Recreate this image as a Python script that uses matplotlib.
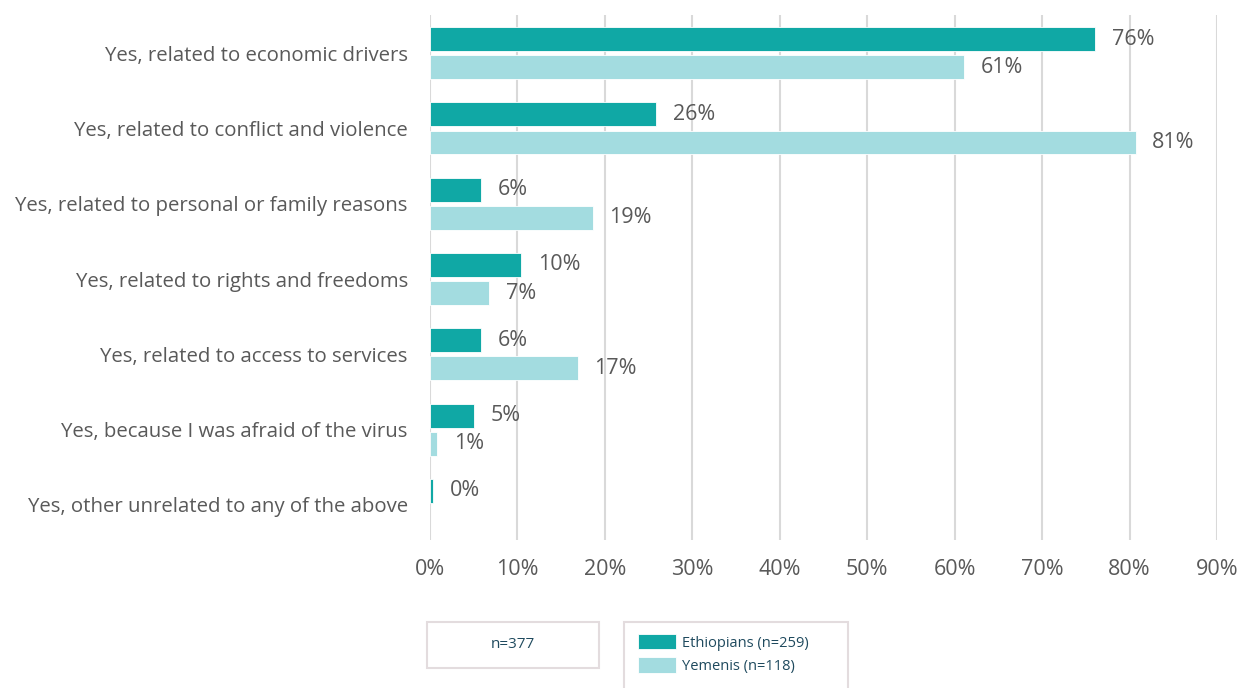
import matplotlib.pyplot as plt
from matplotlib.patches import Rectangle

# Reasons given for changing migration plans, share of respondents
CATEGORIES = ['Yes, related to economic drivers',
              'Yes, related to conflict and violence',
              'Yes, related to personal or family reasons',
              'Yes, related to rights and freedoms',
              'Yes, related to access to services',
              'Yes, because I was afraid of the virus',
              'Yes, other unrelated to any of the above']
ETHIOPIANS = [76.1, 25.9, 5.8, 10.4, 5.8, 5.0, 0.4]
YEMENIS = [61.1, 80.7, 18.6, 6.8, 16.9, 0.8, 0.0]
SERIES_NAMES = ['Ethiopians (n=259)', 'Yemenis (n=118)']
TOTAL_LABEL = 'n=377'
X_TICKS = list(range(0, 100, 10))

DARK = '#10A8A5'
LIGHT = '#A3DCE0'
GREY_TEXT = '#595959'
NAVY = '#1F4A5E'
BOX_EDGE = '#E3DCDE'

plt.rcParams['font.family'] = ['Open Sans', 'DejaVu Sans']

W, H = 1241, 688
fig = plt.figure(figsize=(W / 100, H / 100), dpi=100)


def fx(px):
    return px / W


def fy(py):
    return 1 - py / H


ax = fig.add_axes([fx(430), fy(540), fx(1217) - fx(430), fy(15) - fy(540)])

ypos = list(range(len(CATEGORIES)))
off = 0.186
bh = 0.315
b1 = ax.barh([y - off for y in ypos], ETHIOPIANS, height=bh, color=DARK,
             edgecolor='white', linewidth=0.6, label=SERIES_NAMES[0], zorder=3)
b2 = ax.barh([y + off for y in ypos], YEMENIS, height=bh, color=LIGHT,
             edgecolor='white', linewidth=0.6, label=SERIES_NAMES[1], zorder=3)

# value labels, skipping empty bars
for bars, vals in ((b1, ETHIOPIANS), (b2, YEMENIS)):
    for rect, v in zip(bars, vals):
        if v <= 0:
            rect.set_linewidth(0)
            continue
        ax.annotate(f'{v:.0f}%', (v, rect.get_y() + rect.get_height() / 2),
                    xytext=(12, 0), textcoords='offset points',
                    va='center', ha='left', fontsize=15.5, color=GREY_TEXT)

ax.set_xlim(0, 90)
ax.set_ylim(6.465, -0.505)
ax.set_xticks(X_TICKS)
ax.set_xticklabels([f'{t}%' for t in X_TICKS])
ax.set_yticks(ypos)
ax.set_yticklabels(CATEGORIES)
ax.tick_params(axis='x', length=0, pad=14, labelsize=15.5, labelcolor=GREY_TEXT)
ax.tick_params(axis='y', length=0, pad=16, labelsize=14.7, labelcolor=GREY_TEXT)
ax.grid(axis='x', color='#D9D9D9', linewidth=1.5, zorder=0)
ax.set_axisbelow(True)
for s in ax.spines.values():
    s.set_visible(False)

# sample size box and legend box under the chart
fig.add_artist(Rectangle((fx(427), fy(668)), fx(599) - fx(427), fy(622) - fy(668),
                         transform=fig.transFigure, fill=False,
                         edgecolor=BOX_EDGE, linewidth=1.5))
fig.text(fx(513), fy(645), TOTAL_LABEL, ha='center', va='center',
         fontsize=11, color=NAVY)
fig.add_artist(Rectangle((fx(624), fy(700)), fx(848) - fx(624), fy(622) - fy(700),
                         transform=fig.transFigure, fill=False,
                         edgecolor=BOX_EDGE, linewidth=1.5))
leg = fig.legend(handles=[b1, b2], loc='upper left',
                 bbox_to_anchor=(fx(638), fy(634)), frameon=False,
                 fontsize=10.5, labelcolor=NAVY, borderpad=0, borderaxespad=0,
                 handlelength=2.6, handleheight=1.25, handletextpad=0.45,
                 labelspacing=0.45)

fig.savefig('out.png', dpi=100)
